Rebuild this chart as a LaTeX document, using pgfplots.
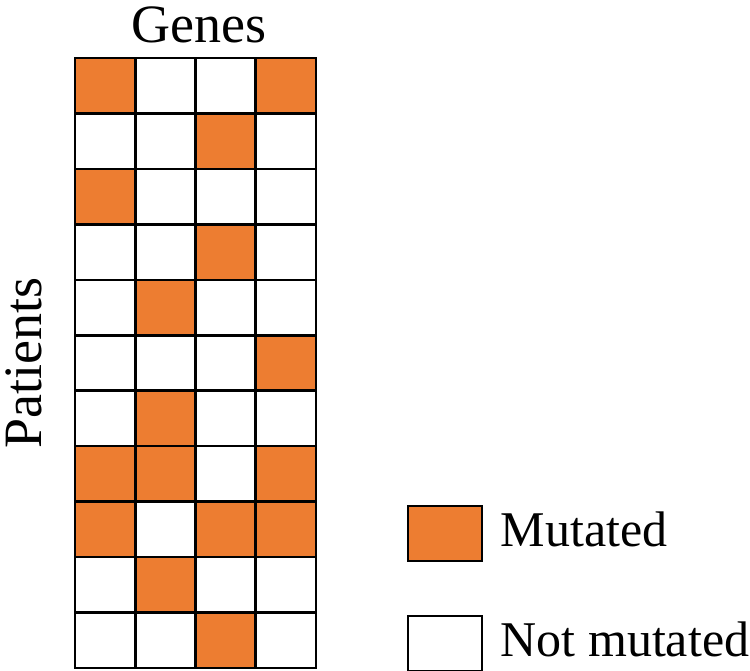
\documentclass[border=0pt]{standalone}
\usepackage{fontspec}
\setmainfont{Liberation Serif}
\usepackage{pgfplots}
\pgfplotsset{compat=1.18}
\definecolor{mutorange}{HTML}{ED7D31}
\begin{document}
\fontsize{27bp}{32bp}\selectfont
\begin{tikzpicture}
\useasboundingbox (0,0) rectangle (375bp,335.5bp);
\begin{axis}[
    at={(37.5bp,1.5bp)}, anchor=south west,
    scale only axis,
    width=120.5bp, height=305bp,
    xmin=-0.5, xmax=3.5, ymin=-0.5, ymax=10.5,
    y dir=reverse,
    xtick={-0.5,0.5,...,3.5},
    ytick={-0.5,0.5,...,10.5},
    xticklabels={}, yticklabels={},
    major tick length=0pt,
    grid=major,
    grid style={black, line width=1.3bp},
    axis line style={black, line width=1.3bp},
    axis on top,
    colormap={mut}{color=(white) color=(mutorange)},
    point meta min=0, point meta max=1,
    title={Genes},
    title style={at={(axis description cs:0.515,1)}, anchor=base, yshift=2bp, inner sep=0pt},
    ylabel={Patients},
    ylabel style={at={(axis description cs:-0.137,0.5)}, anchor=base, inner sep=0pt},
    legend style={at={(axis description cs:1.378,0.267)}, anchor=north west,
        draw=none, fill=none, inner sep=0pt, outer sep=0pt,
        row sep=26.75bp, column sep=9bp,
        font=\fontsize{25bp}{30bp}\selectfont,
        nodes={inner sep=0pt}},
    legend cell align=left,
]
\addplot[matrix plot*, mesh/cols=4, point meta=explicit, forget plot] coordinates {
(0,0) [1] (1,0) [0] (2,0) [0] (3,0) [1]

(0,1) [0] (1,1) [0] (2,1) [1] (3,1) [0]

(0,2) [1] (1,2) [0] (2,2) [0] (3,2) [0]

(0,3) [0] (1,3) [0] (2,3) [1] (3,3) [0]

(0,4) [0] (1,4) [1] (2,4) [0] (3,4) [0]

(0,5) [0] (1,5) [0] (2,5) [0] (3,5) [1]

(0,6) [0] (1,6) [1] (2,6) [0] (3,6) [0]

(0,7) [1] (1,7) [1] (2,7) [0] (3,7) [1]

(0,8) [1] (1,8) [0] (2,8) [1] (3,8) [1]

(0,9) [0] (1,9) [1] (2,9) [0] (3,9) [0]

(0,10) [0] (1,10) [0] (2,10) [1] (3,10) [0]
};
\addlegendimage{legend image code/.code={\draw[black, line width=0.8bp, fill=mutorange] (0bp,-13.75bp) rectangle (37bp,13.75bp);}}
\addlegendentry{Mutated}
\addlegendimage{legend image code/.code={\draw[black, line width=0.8bp, fill=white] (0bp,-13.75bp) rectangle (37bp,13.75bp);}}
\addlegendentry{Not mutated}
\end{axis}
\end{tikzpicture}
\end{document}
